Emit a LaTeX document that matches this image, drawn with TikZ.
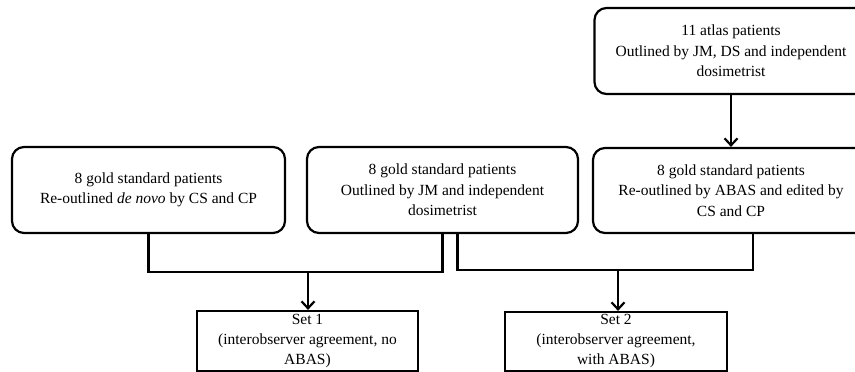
\documentclass[tikz,border=0pt]{standalone}
\usepackage{fontspec}
\setmainfont{Liberation Serif}
\usetikzlibrary{arrows.meta}
\tikzset{
  patbox/.style={draw, line width=2.2pt, rounded corners=12pt, align=center,
    inner sep=0pt, font=\fontsize{15.5}{20.5}\selectfont},
  setbox/.style={draw, line width=2.2pt, align=center, inner sep=0pt,
    font=\fontsize{15.5}{20}\selectfont},
  link/.style={line width=2.2pt},
  arr/.style={line width=2.2pt, -{Straight Barb[length=7pt,width=13pt,line width=2.2pt]}}
}

\begin{document}
\begin{tikzpicture}[x=1pt, y=-1pt]
  \useasboundingbox (0,0) rectangle (855,372);

  % patient groups
  \node[patbox, minimum width=273pt, minimum height=86pt] (atlas) at (731,51)
    {11 atlas patients\\Outlined by JM, DS and independent\\dosimetrist};
  \node[patbox, minimum width=273pt, minimum height=86pt] (denovo) at (148.5,190)
    {8 gold standard patients\\Re-outlined \textit{de novo} by CS and CP};
  \node[patbox, minimum width=271pt, minimum height=86pt] (jm) at (442.5,190)
    {8 gold standard patients\\Outlined by JM and independent\\dosimetrist};
  \node[patbox, minimum width=276pt, minimum height=85pt] (abas) at (731,190.5)
    {8 gold standard patients\\Re-outlined by ABAS and edited by\\CS and CP};

  % result sets
  \node[setbox, minimum width=221pt, minimum height=60pt] (set1) at (307.5,341)
    {Set 1\\(interobserver agreement, no\\ABAS)};
  \node[setbox, minimum width=222pt, minimum height=59pt] (set2) at (616,341.5)
    {Set 2\\(interobserver agreement,\\with ABAS)};

  \coordinate (j1) at (308,272);
  \coordinate (j2) at (618,270);

  \draw[arr] (atlas) -- (abas);
  \draw[link] (denovo.south) |- (j1) -| (jm.south);
  \draw[link] ([xshift=15pt]jm.south) |- (j2) -| ([xshift=22pt]abas.south);
  \draw[arr] (j1) -- (j1 |- set1.north);
  \draw[arr] (j2) -- (j2 |- set2.north);
\end{tikzpicture}
\end{document}
